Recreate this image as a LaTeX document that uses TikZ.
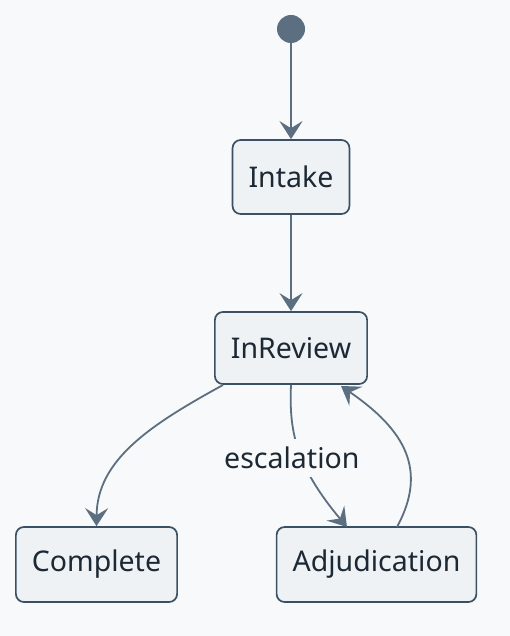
\documentclass[tikz,border=0pt]{standalone}
\usepackage{fontspec}
\setmainfont{Noto Sans}
\usetikzlibrary{arrows.meta}

\definecolor{pagebg}{HTML}{F8F9FA}
\definecolor{statefill}{HTML}{EEF2F5}
\definecolor{stateline}{HTML}{3B5063}
\definecolor{flowline}{HTML}{5B6F80}
\definecolor{textdark}{HTML}{1C2833}

\begin{document}
\begin{tikzpicture}[x=1pt,y=-1pt,
    state/.style={draw=stateline,fill=statefill,line width=1.7pt,rounded corners=8pt,
        inner xsep=16pt,minimum height=74pt,text=textdark,
        font=\fontsize{28.5}{34}\selectfont},
    flow/.style={draw=flowline,line width=1.8pt,
        -{Stealth[length=18pt,width=23pt,inset=7pt]}},
    flowlabel/.style={fill=pagebg,text=textdark,inner xsep=3pt,inner ysep=8pt,
        font=\fontsize{28.5}{34}\selectfont}]
                \fill[pagebg] (0,0) rectangle (510,636);
                \useasboundingbox (0,0) rectangle (510,636);
                \node[circle,fill=flowline,minimum size=28pt,inner sep=0pt] (start) at (291,29) {};
                \node[state] (Intake) at (291,177) {Intake};
                \node[state,minimum height=72pt] (InReview) at (291,348) {InReview};
                \node[state,minimum height=75pt] (Complete) at (96.5,564.5) {Complete};
                \node[state,minimum height=75pt] (Adjudication) at (376.5,564.5) {Adjudication};
                \coordinate (ReviewOutL) at (223,385);
                \coordinate (ReviewInR) at (341,386);
                \coordinate (AdjIn) at (347,527);
                \coordinate (AdjOut) at (397,527);
                \draw[flow] (start) to (Intake);
                \draw[flow] (Intake) to (InReview);
                \draw[flow] (ReviewOutL) .. controls (150,425) and (97,460) .. (Complete.north);
                \draw[flow] (InReview.south) .. controls (289,430) and (295,465) .. node[flowlabel,pos=0.56,xshift=-10pt] (esc) {escalation} (AdjIn);
                \draw[flow] (AdjOut) .. controls (428,470) and (405,430) .. (ReviewInR);
            \end{tikzpicture}
\end{document}
